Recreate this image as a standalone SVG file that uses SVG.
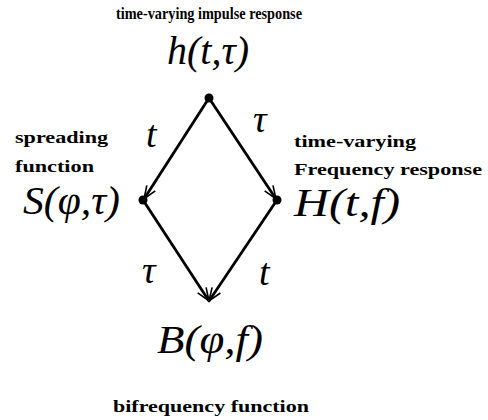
<svg xmlns="http://www.w3.org/2000/svg" width="488" height="420" viewBox="0 0 488 420">
<style>
text{font-family:"Liberation Serif","Times New Roman",serif;fill:#000}
.lbl{font-weight:bold;font-size:17px}
.math{font-style:italic;font-size:41px}
.var{font-style:italic;font-size:38px}
.edge{stroke:#000;stroke-width:2.8;fill:none}
</style>
<defs>
<marker id="ah" markerUnits="userSpaceOnUse" markerWidth="16" markerHeight="12" refX="14" refY="6" orient="auto">
<path d="M1,1 L14,6 L1,11" fill="none" stroke="#000" stroke-width="1.6"/>
</marker>
</defs>
<rect width="488" height="420" fill="#fff"/>
<g id="connectors">
<line class="edge" x1="209" y1="98" x2="144" y2="199" marker-end="url(#ah)"/>
<line class="edge" x1="209" y1="98" x2="276" y2="199" marker-end="url(#ah)"/>
<line class="edge" x1="143" y1="200" x2="209" y2="301" marker-end="url(#ah)"/>
<line class="edge" x1="277" y1="200" x2="209" y2="301" marker-end="url(#ah)"/>
<text class="var" x="146" y="147">t</text>
<text class="var" x="253" y="132">τ</text>
<text class="var" x="142" y="283">τ</text>
<text class="var" x="259" y="285">t</text>
</g>
<g id="node-h">
<circle cx="209" cy="98" r="4.5" fill="#000"/>
<text class="lbl" x="116" y="19" textLength="186" lengthAdjust="spacingAndGlyphs">time-varying impulse response</text>
<text class="math" x="167" y="64" textLength="82" lengthAdjust="spacingAndGlyphs">h(t,τ)</text>
</g>
<g id="node-S">
<circle cx="143" cy="200" r="4.5" fill="#000"/>
<text class="lbl" x="15" y="143" textLength="93" lengthAdjust="spacingAndGlyphs">spreading</text>
<text class="lbl" x="15" y="172" textLength="79" lengthAdjust="spacingAndGlyphs">function</text>
<text class="math" x="23" y="214" textLength="97" lengthAdjust="spacingAndGlyphs">S(φ,τ)</text>
</g>
<g id="node-H">
<circle cx="277" cy="200" r="4.5" fill="#000"/>
<text class="lbl" x="294" y="147" textLength="122" lengthAdjust="spacingAndGlyphs">time-varying</text>
<text class="lbl" x="294" y="175" textLength="188" lengthAdjust="spacingAndGlyphs">Frequency response</text>
<text class="math" x="294" y="216" textLength="106" lengthAdjust="spacingAndGlyphs">H(t,f)</text>
</g>
<g id="node-B">
<text class="math" x="157" y="353" textLength="106" lengthAdjust="spacingAndGlyphs">B(φ,f)</text>
<text class="lbl" x="113" y="412" textLength="196" lengthAdjust="spacingAndGlyphs">bifrequency function</text>
</g>
</svg>
